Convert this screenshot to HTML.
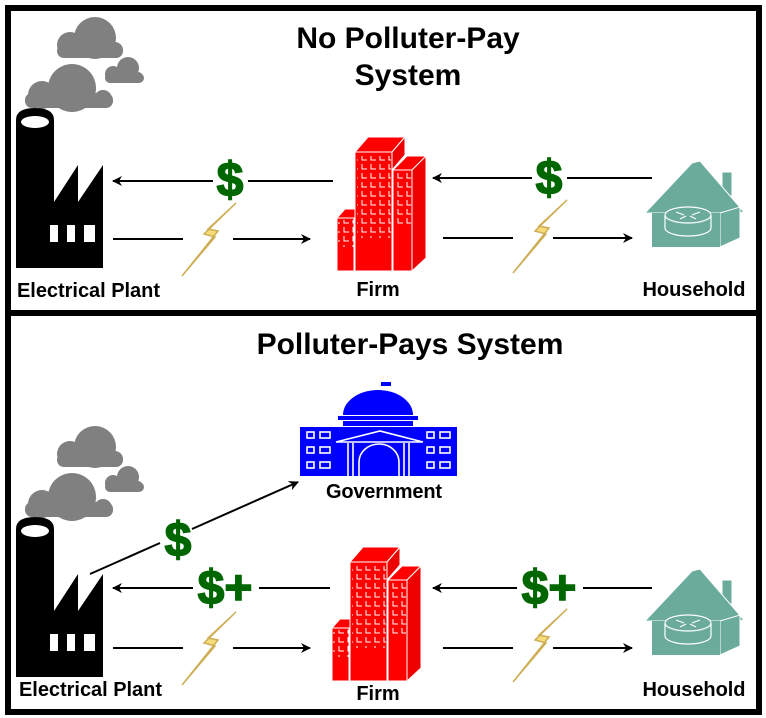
<!DOCTYPE html>
<html><head><meta charset="utf-8"><style>
html,body{margin:0;padding:0;background:#fff;}
svg{display:block;}
text{font-family:"Liberation Sans",Arial,sans-serif;font-weight:bold;}
</style></head><body>
<svg width="766" height="718" viewBox="0 0 766 718" xmlns="http://www.w3.org/2000/svg">
<defs>
<marker id="ah" viewBox="0 0 10 10" refX="9" refY="5" markerWidth="10" markerHeight="10" markerUnits="userSpaceOnUse" orient="auto">
<path d="M0,0 L10,5 L0,10 L3,5 Z" fill="#000"/></marker>
<g id="clouds" fill="#808080">
<circle cx="70" cy="45" r="13"/><circle cx="95" cy="38" r="21"/><circle cx="115" cy="50" r="8"/><rect x="57" y="44" width="66" height="14" rx="7"/>
<circle cx="42" cy="95" r="14"/><circle cx="72" cy="88" r="24"/><circle cx="103" cy="99" r="9"/><rect x="25" y="93" width="88" height="15" rx="7"/>
<circle cx="113" cy="74" r="8"/><circle cx="128" cy="68" r="11"/><circle cx="139" cy="78" r="5"/><rect x="105" y="72" width="38" height="11" rx="5"/>
</g>
<g id="factory">
<path d="M16,120 Q16,108 35,108 Q54,108 54,120 L54,202 L78,165 L78,202 L103,165 L103,268 L16,268 Z" fill="#000"/>
<ellipse cx="35" cy="122" rx="14" ry="6" fill="#fff"/>
<rect x="50" y="225" width="8" height="17" fill="#fff"/><rect x="67" y="225" width="8" height="17" fill="#fff"/><rect x="84" y="225" width="11" height="17" fill="#fff"/>
</g>
<g id="bolt"><polygon points="236,203 204,234 215,237 182,276 218,231 208,229" fill="#f6dc78" stroke="#cdae55" stroke-width="1.5"/></g>
<pattern id="win" x="0" y="0" width="9" height="9" patternUnits="userSpaceOnUse">
<path d="M2,2 V7 H7" stroke="#fff" stroke-width="1" fill="none"/></pattern>
<g id="firm" stroke="#fff" stroke-width="1">
<polygon points="355,152 368,137 405,137 392,152" fill="#f00"/>
<polygon points="392,152 405,137 405,155 392,170" fill="#e00"/>
<rect x="355" y="152" width="37" height="119" fill="#f00"/>
<rect x="357" y="156" width="34" height="82" fill="url(#win)" stroke="none"/>
<polygon points="393,170 407,156 426,156 412,170" fill="#f00"/>
<polygon points="412,170 426,156 426,258 412,271" fill="#e00"/>
<rect x="393" y="170" width="19" height="101" fill="#f00"/>
<rect x="394" y="173" width="17" height="54" fill="url(#win)" stroke="none"/>
<polygon points="337,218 345,209 355,209 355,218" fill="#f00"/>
<rect x="337" y="218" width="17" height="53" fill="#f00"/>
<rect x="338" y="220" width="16" height="27" fill="url(#win)" stroke="none"/>
</g>
<g id="house" fill="#6aab9c">
<rect x="722" y="172" width="10" height="24" stroke="#fff" stroke-width="1"/>
<polygon points="645,213 692,163 700,161 744,212 722,216 720,213"  stroke="#fff" stroke-width="1"/>
<polygon points="720,213 740,207 740,238 720,247" stroke="#fff" stroke-width="1"/>
<rect x="652" y="213" width="68" height="34"/>
<path d="M665,215 v13 a23,8 0 0 0 46,0 v-13" stroke="#fff" stroke-width="1.2"/>
<ellipse cx="688" cy="215" rx="23" ry="8" stroke="#fff" stroke-width="1.2"/>
<path d="M676,212 l8,3 M700,212 l-8,3 M680,219 l6,-3 M696,219 l-6,-3" stroke="#fff" stroke-width="1.2"/>
</g>
</defs>

<rect x="8" y="8" width="751" height="704" fill="none" stroke="#000" stroke-width="6"/>
<rect x="8" y="310" width="751" height="6" fill="#000"/>

<!-- TOP -->
<text x="408" y="48" font-size="30" text-anchor="middle">No Polluter-Pay</text>
<text x="408" y="85" font-size="30" text-anchor="middle">System</text>
<use href="#clouds"/>
<use href="#factory"/>
<text x="17" y="297" font-size="20" textLength="143">Electrical Plant</text>
<line x1="333" y1="181" x2="113" y2="181" stroke="#000" stroke-width="2" marker-end="url(#ah)"/>
<rect x="213" y="158" width="35" height="44" fill="#fff"/>
<text x="230" y="196" font-size="48" fill="#006600" stroke="#006600" stroke-width="1.5" text-anchor="middle">$</text>
<line x1="113" y1="239" x2="183" y2="239" stroke="#000" stroke-width="2"/>
<line x1="233" y1="239" x2="310" y2="239" stroke="#000" stroke-width="2" marker-end="url(#ah)"/>
<use href="#bolt"/>
<use href="#firm"/>
<text x="378" y="296" font-size="20" text-anchor="middle">Firm</text>
<line x1="652" y1="178" x2="433" y2="178" stroke="#000" stroke-width="2" marker-end="url(#ah)"/>
<rect x="532" y="156" width="35" height="44" fill="#fff"/>
<text x="549" y="194" font-size="48" fill="#006600" stroke="#006600" stroke-width="1.5" text-anchor="middle">$</text>
<line x1="443" y1="238" x2="513" y2="238" stroke="#000" stroke-width="2"/>
<line x1="553" y1="238" x2="632" y2="238" stroke="#000" stroke-width="2" marker-end="url(#ah)"/>
<use href="#bolt" transform="translate(331,-3)"/>
<use href="#house"/>
<text x="694" y="296" font-size="20" text-anchor="middle" textLength="103">Household</text>

<!-- BOTTOM -->
<text x="410" y="354" font-size="30" text-anchor="middle">Polluter-Pays System</text>
<use href="#clouds" transform="translate(0,409)"/>
<use href="#factory" transform="translate(0,409)"/>
<text x="19" y="696" font-size="20" textLength="143">Electrical Plant</text>
<g fill="#0000ff">
<rect x="381" y="382" width="10" height="4"/>
<path d="M343,415 A35,25 0 0 1 413,415 Z"/>
<rect x="338" y="416" width="80" height="4"/>
<rect x="343" y="421" width="70" height="5"/>
<rect x="300" y="427" width="157" height="49"/>
</g>
<g fill="none" stroke="#fff" stroke-width="1.6">
<rect x="307" y="432" width="7" height="6"/><rect x="320" y="432" width="10" height="6"/>
<rect x="307" y="447" width="7" height="6"/><rect x="320" y="447" width="10" height="6"/>
<rect x="307" y="462" width="7" height="6"/><rect x="320" y="462" width="10" height="6"/>
<rect x="427" y="432" width="7" height="6"/><rect x="440" y="432" width="10" height="6"/>
<rect x="427" y="447" width="7" height="6"/><rect x="440" y="447" width="10" height="6"/>
<rect x="427" y="462" width="7" height="6"/><rect x="440" y="462" width="10" height="6"/>
<path d="M336,442 L380,431 L423,442 Z"/>
<path d="M348,443 V476 M353,443 V476 M404,443 V476 M409,443 V476"/>
<path d="M359,476 V462 A20,18 0 0 1 399,462 V476"/>
</g>
<text x="384" y="498" font-size="20" text-anchor="middle" textLength="116">Government</text>
<line x1="90" y1="574" x2="160" y2="543" stroke="#000" stroke-width="2"/>
<line x1="192" y1="529" x2="298" y2="482" stroke="#000" stroke-width="2" marker-end="url(#ah)"/>
<text x="178" y="556" font-size="48" fill="#006600" stroke="#006600" stroke-width="1.5" text-anchor="middle">$</text>
<line x1="330" y1="588" x2="113" y2="588" stroke="#000" stroke-width="2" marker-end="url(#ah)"/>
<rect x="193" y="564" width="66" height="46" fill="#fff"/>
<text x="225" y="604" font-size="48" fill="#006600" stroke="#006600" stroke-width="1.5" text-anchor="middle">$+</text>
<line x1="113" y1="648" x2="183" y2="648" stroke="#000" stroke-width="2"/>
<line x1="233" y1="648" x2="310" y2="648" stroke="#000" stroke-width="2" marker-end="url(#ah)"/>
<use href="#bolt" transform="translate(0,409)"/>
<use href="#firm" transform="translate(-5,410)"/>
<text x="378" y="700" font-size="20" text-anchor="middle">Firm</text>
<line x1="652" y1="588" x2="433" y2="588" stroke="#000" stroke-width="2" marker-end="url(#ah)"/>
<rect x="517" y="564" width="66" height="46" fill="#fff"/>
<text x="549" y="604" font-size="48" fill="#006600" stroke="#006600" stroke-width="1.5" text-anchor="middle">$+</text>
<line x1="443" y1="648" x2="513" y2="648" stroke="#000" stroke-width="2"/>
<line x1="553" y1="648" x2="632" y2="648" stroke="#000" stroke-width="2" marker-end="url(#ah)"/>
<use href="#bolt" transform="translate(331,406)"/>
<use href="#house" transform="translate(0,408)"/>
<text x="694" y="696" font-size="20" text-anchor="middle" textLength="103">Household</text>
</svg>
</body></html>
